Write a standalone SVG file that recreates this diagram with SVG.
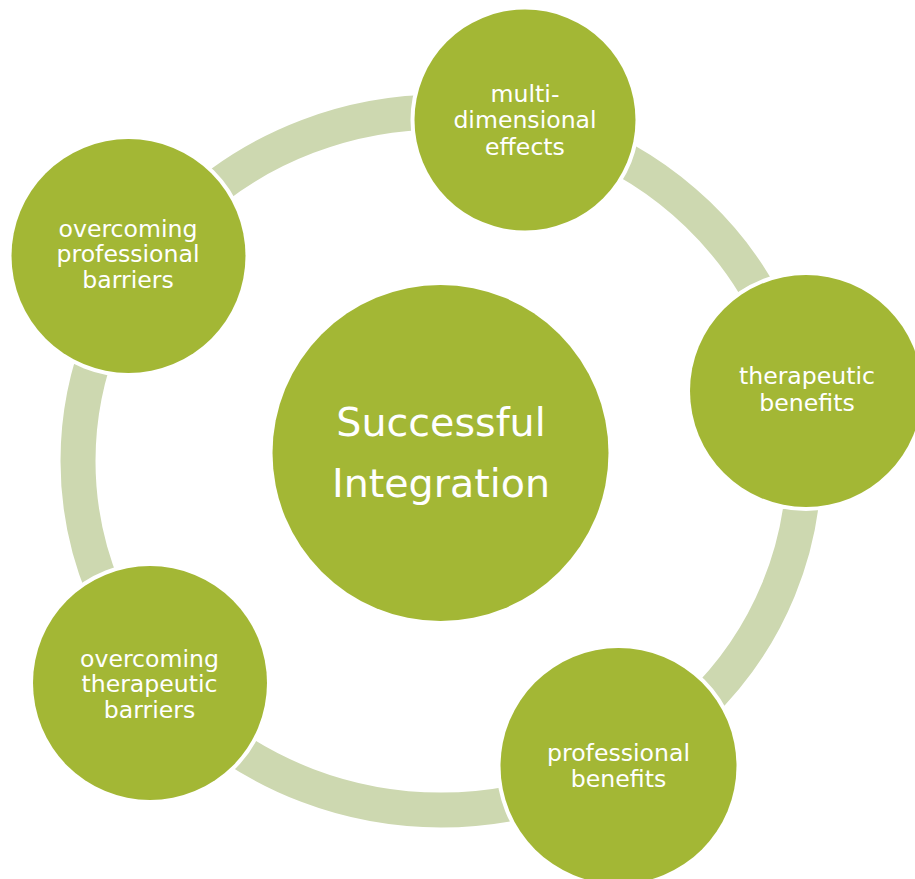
<svg xmlns="http://www.w3.org/2000/svg" width="915" height="879" viewBox="0 0 915 879">
<style>
.node{fill:#a3b735;stroke:#ffffff;stroke-width:8;paint-order:stroke}
.lbl{font-family:"DejaVu Sans","Verdana",sans-serif;font-size:23.6px;fill:#ffffff;text-anchor:middle}
.big{font-family:"DejaVu Sans","Verdana",sans-serif;font-size:39.6px;fill:#ffffff;text-anchor:middle}
.ring{fill:none;stroke:#cdd8b0;stroke-width:35}
</style>
<rect width="915" height="879" fill="#ffffff"/>
<g id="connectors">
<ellipse class="ring" cx="441" cy="461" rx="363" ry="349"/>
</g>
<g id="center">
<circle cx="440.5" cy="453" r="168" fill="#a3b735"/>
<text class="big" x="441" y="436">Successful</text>
<text class="big" x="441" y="497">Integration</text>
</g>
<g id="multi-dimensional-effects">
<circle class="node" cx="525" cy="120" r="110.5"/>
<text class="lbl" x="525" y="101.5">multi-</text>
<text class="lbl" x="525" y="128">dimensional</text>
<text class="lbl" x="525" y="154.5">effects</text>
</g>
<g id="therapeutic-benefits">
<circle class="node" cx="806" cy="391" r="116"/>
<text class="lbl" x="807" y="384">therapeutic</text>
<text class="lbl" x="807" y="411">benefits</text>
</g>
<g id="professional-benefits">
<circle class="node" cx="618.5" cy="766" r="118"/>
<text class="lbl" x="618.5" y="760.5">professional</text>
<text class="lbl" x="618.5" y="786.5">benefits</text>
</g>
<g id="overcoming-therapeutic-barriers">
<circle class="node" cx="150" cy="683" r="117"/>
<text class="lbl" x="149.5" y="666.5">overcoming</text>
<text class="lbl" x="149.5" y="692">therapeutic</text>
<text class="lbl" x="149.5" y="717.5">barriers</text>
</g>
<g id="overcoming-professional-barriers">
<circle class="node" cx="128.5" cy="256" r="117"/>
<text class="lbl" x="128" y="236.5">overcoming</text>
<text class="lbl" x="128" y="262">professional</text>
<text class="lbl" x="128" y="287.5">barriers</text>
</g>
</svg>
